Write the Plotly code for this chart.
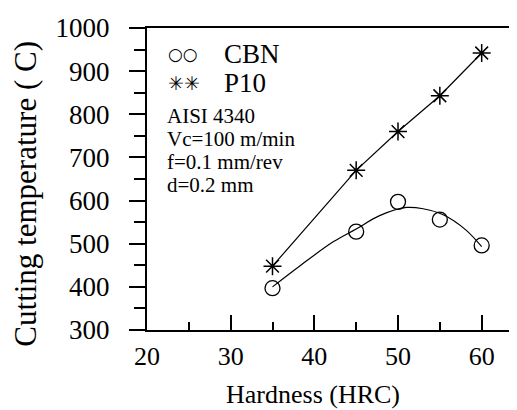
import plotly.graph_objects as go

# Data
hardness = [35, 45, 50, 55, 60]
cbn_temp = [397, 528, 597, 556, 496]
p10_temp = [448, 670, 760, 843, 942]

# Fitted curve through CBN data
cbn_fit_x = [35, 38.3, 42.3, 45, 47.8, 51, 53, 55.4, 58.1, 60]
cbn_fit_y = [400, 449, 505, 534, 565, 584, 581, 567, 532, 493]

legend_labels = ["CBN", "P10"]
legend_symbols = ["○○", "✳\ufe0e✳\ufe0e"]
conditions = ["AISI 4340", "Vc=100 m/min", "f=0.1 mm/rev", "d=0.2 mm"]
x_title = "Hardness (HRC)"
y_title = "Cutting temperature ( C)"

FONT = "Liberation Serif, Times New Roman, serif"

fig = go.Figure()
fig.add_trace(go.Scatter(x=cbn_fit_x, y=cbn_fit_y, mode="lines",
                         line=dict(color="black", width=1.2, shape="spline", smoothing=1.0),
                         showlegend=False, hoverinfo="skip"))
fig.add_trace(go.Scatter(x=hardness, y=cbn_temp, mode="markers", name="CBN",
                         marker=dict(symbol="circle-open", size=15, color="black",
                                     line=dict(width=1.3, color="black")),
                         showlegend=False))
fig.add_trace(go.Scatter(x=hardness, y=p10_temp, mode="lines+markers", name="P10",
                         line=dict(color="black", width=1.2),
                         marker=dict(symbol="asterisk-open", size=15, color="black",
                                     line=dict(width=1.5, color="black")),
                         showlegend=False))

L, R, T, B = 139, 2, 20, 88
W, H = 517, 410
pw, ph = W - L - R, H - T - B

def px(xp):
    return (xp - L) / pw

def py(yp):
    return (H - B - yp) / ph

anns = []
# legend
for i, (s, lab) in enumerate(zip(legend_symbols, legend_labels)):
    yy = py(46 + i * 29)
    anns.append(dict(x=px(158), y=yy, xref="paper", yref="paper", text=s,
                     showarrow=False, xanchor="left", yanchor="middle",
                     font=dict(family="DejaVu Sans", size=17 if i == 0 else 19, color="black")))
    anns.append(dict(x=px(214), y=yy, xref="paper", yref="paper", text=lab,
                     showarrow=False, xanchor="left", yanchor="middle",
                     font=dict(family=FONT, size=27, color="black")))
for i, t in enumerate(conditions):
    anns.append(dict(x=px(157), y=py(108 + i * 23), xref="paper", yref="paper", text=t,
                     showarrow=False, xanchor="left", yanchor="middle",
                     font=dict(family=FONT, size=21, color="black")))
# axis titles
anns.append(dict(x=px(306), y=py(386), xref="paper", yref="paper", text=x_title,
                 showarrow=False, xanchor="center", yanchor="middle",
                 font=dict(family=FONT, size=26, color="black")))
anns.append(dict(x=px(17), y=py(186), xref="paper", yref="paper", text=y_title,
                 showarrow=False, xanchor="center", yanchor="middle", textangle=-90,
                 font=dict(family=FONT, size=31, color="black")))

fig.update_layout(
    width=W, height=H,
    margin=dict(l=L, r=R, t=T, b=B, pad=0),
    paper_bgcolor="white", plot_bgcolor="white",
    font=dict(family=FONT, size=26, color="black"),
    annotations=anns,
    xaxis=dict(range=[20, 64.7], tickmode="linear", tick0=20, dtick=10,
               ticks="inside", ticklen=15, tickwidth=2, tickcolor="black",
               minor=dict(dtick=5, tick0=20, ticks="inside", ticklen=8, tickwidth=2, tickcolor="black"),
               showline=True, linewidth=2, linecolor="black", mirror=True,
               showgrid=False, zeroline=False,
               ticklabelstandoff=2,
               tickfont=dict(family=FONT, size=26, color="black")),
    yaxis=dict(range=[300, 1000], tickmode="linear", tick0=300, dtick=100,
               ticks="outside", ticklen=16, tickwidth=2, tickcolor="black",
               minor=dict(dtick=50, tick0=300, ticks="outside", ticklen=11, tickwidth=2, tickcolor="black"),
               showline=True, linewidth=2, linecolor="black", mirror=True,
               showgrid=False, zeroline=False,
               ticklabelstandoff=14,
               tickfont=dict(family=FONT, size=27, color="black")),
)

fig.write_html("out.html")
